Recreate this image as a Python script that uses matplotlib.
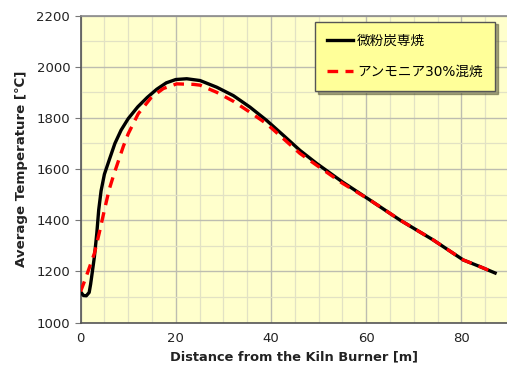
import matplotlib
matplotlib.use("Agg")
import matplotlib.pyplot as plt
from matplotlib.ticker import MultipleLocator

plt.rcParams["font.family"] = ["DejaVu Sans", "Noto Sans CJK JP"]

# kiln temperature profiles
coal_x = [0.1, 0.6, 1.2, 1.8, 2.1, 2.4, 2.9, 3.4, 3.8, 4.3, 5.0, 6.0, 7.2, 8.5,
          10.0, 12.0, 14.0, 16.0, 18.0, 20.0, 22.3, 25.1, 28.6, 32.1, 35.6, 39.1,
          42.6, 46.1, 49.6, 55.0, 60.8, 67.1, 74.1, 80.4, 83.9, 87.1]
coal_t = [1118, 1106, 1105, 1118, 1150, 1190, 1258, 1349, 1440, 1515, 1580, 1635,
          1700, 1752, 1797, 1843, 1880, 1912, 1937, 1950, 1953, 1946, 1920, 1887,
          1842, 1790, 1732, 1673, 1622, 1550, 1479, 1401, 1323, 1245, 1219, 1194]

nh3_x = [0.0, 0.8, 1.8, 2.9, 3.9, 5.0, 6.0, 7.0, 8.0, 9.0, 10.0, 12.1, 14.9,
         17.4, 20.2, 23.7, 25.1, 28.6, 32.1, 35.6, 39.1, 42.6, 46.1, 49.6, 55.0,
         60.8, 67.1, 74.1, 80.4, 83.9, 87.1]
nh3_t = [1122, 1161, 1213, 1271, 1349, 1440, 1520, 1580, 1635, 1690, 1738, 1816,
         1881, 1915, 1933, 1931, 1928, 1900, 1865, 1822, 1777, 1719, 1661, 1615,
         1545, 1479, 1401, 1323, 1245, 1219, 1194]

labels = ["微粉炭専焼", "アンモニア30%混焼"]

fig = plt.figure(figsize=(5.07, 3.70), dpi=100)
ax = fig.add_axes([0.159, 0.128, 0.841, 0.830])
ax.set_facecolor("#FFFFCC")

ax.plot(coal_x, coal_t, color="black", lw=2.4, label=labels[0], zorder=3,
        solid_joinstyle="round")
ax.plot(nh3_x, nh3_t, color="#FF0000", lw=2.4, ls=(0, (3.2, 2.2)),
        label=labels[1], zorder=4)

ax.set_xlim(0, 89.6)
ax.set_ylim(1000, 2200)
ax.xaxis.set_major_locator(MultipleLocator(20))
ax.xaxis.set_minor_locator(MultipleLocator(5))
ax.yaxis.set_major_locator(MultipleLocator(200))
ax.yaxis.set_minor_locator(MultipleLocator(100))
ax.grid(which="major", color="#BDBDB0", lw=1.0, zorder=0)
ax.grid(which="minor", color="#E2E2C4", lw=0.9, zorder=0)
ax.set_axisbelow(True)

for s in ["left", "bottom", "top"]:
    ax.spines[s].set_color("#555555")
    ax.spines[s].set_linewidth(1.2)
ax.spines["top"].set_color("#8A8A8A")
ax.spines["right"].set_visible(False)

ax.tick_params(which="major", axis="y", length=4, color="#777777", labelsize=9.5,
               labelcolor="#222222")
ax.tick_params(which="major", axis="x", length=0, pad=7, labelsize=9.5,
               labelcolor="#222222")
ax.tick_params(which="minor", length=0)

ax.set_xlabel("Distance from the Kiln Burner [m]", fontsize=9.4, weight="bold",
              color="#222222", labelpad=4)
ax.set_ylabel("Average Temperature [℃]", fontsize=9.6, weight="bold",
              color="#222222", labelpad=6)

leg = ax.legend(loc="upper right", bbox_to_anchor=(0.972, 0.98), fontsize=9.8,
                frameon=True, fancybox=False, shadow=True, framealpha=1,
                facecolor="#FFFF99", edgecolor="#555555", handlelength=1.9,
                labelspacing=1.25, borderpad=0.9, handletextpad=0.3,
                borderaxespad=0)
leg.get_frame().set_linewidth(1.0)

fig.savefig("out.png", dpi=100, facecolor="white")
